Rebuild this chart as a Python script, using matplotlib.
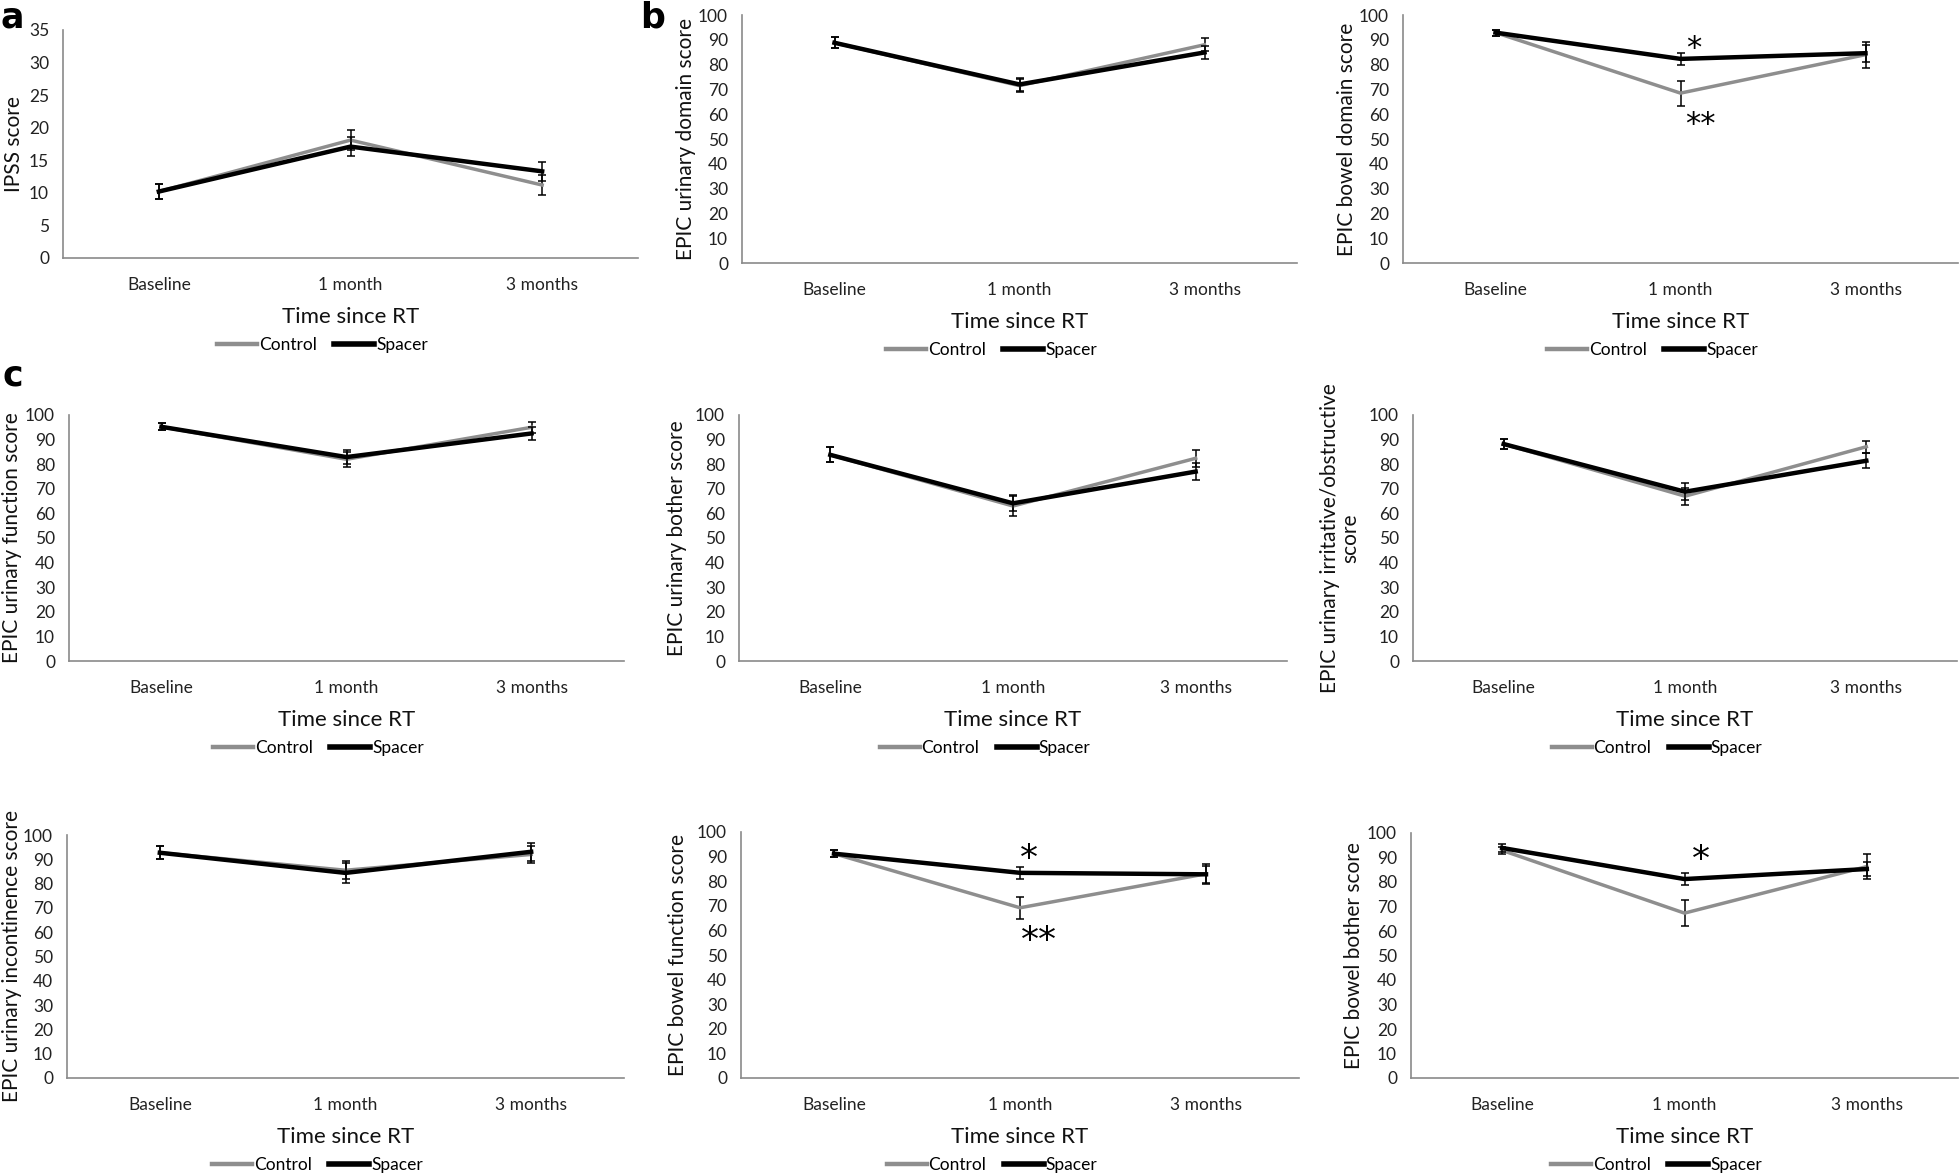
import matplotlib
matplotlib.use("Agg")
import matplotlib.pyplot as plt
from matplotlib.lines import Line2D
import numpy as np

plt.rcParams['font.family'] = ['Lato', 'DejaVu Sans']

W, H = 1960, 1176

categories = ['Baseline', '1 month', '3 months']

# panel a
ipss_control = [10.2, 18.1, 11.2]
ipss_control_err = [1.2, 1.5, 1.5]
ipss_spacer = [10.2, 17.1, 13.3]
ipss_spacer_err = [1.2, 1.4, 1.5]

# panel b
urinary_domain_control = [88.8, 71.5, 88.0]
urinary_domain_control_err = [2.2, 2.5, 2.7]
urinary_domain_spacer = [88.8, 72.0, 84.9]
urinary_domain_spacer_err = [2.2, 2.7, 2.7]

bowel_domain_control = [92.9, 68.5, 84.0]
bowel_domain_control_err = [1.2, 5.0, 5.2]
bowel_domain_spacer = [92.9, 82.3, 84.6]
bowel_domain_spacer_err = [1.2, 2.5, 3.5]

# panel c
urinary_function_control = [95.2, 82.0, 95.0]
urinary_function_control_err = [1.5, 3.0, 2.3]
urinary_function_spacer = [95.2, 82.9, 92.5]
urinary_function_spacer_err = [1.5, 2.8, 2.7]

urinary_bother_control = [83.8, 63.0, 82.4]
urinary_bother_control_err = [3.0, 4.0, 3.5]
urinary_bother_spacer = [83.8, 64.1, 77.0]
urinary_bother_spacer_err = [3.0, 3.2, 3.4]

irritative_control = [88.2, 67.0, 87.1]
irritative_control_err = [2.2, 3.5, 2.4]
irritative_spacer = [88.2, 68.8, 81.4]
irritative_spacer_err = [2.2, 3.4, 3.1]

incontinence_control = [92.7, 85.5, 92.0]
incontinence_control_err = [2.7, 3.6, 3.5]
incontinence_spacer = [92.7, 84.4, 93.1]
incontinence_spacer_err = [2.7, 4.0, 3.8]

bowel_function_control = [91.2, 69.2, 83.0]
bowel_function_control_err = [1.5, 4.5, 4.0]
bowel_function_spacer = [91.2, 83.4, 82.8]
bowel_function_spacer_err = [1.5, 2.5, 3.4]

bowel_bother_control = [92.9, 67.3, 86.3]
bowel_bother_control_err = [1.5, 5.2, 5.0]
bowel_bother_spacer = [93.9, 81.2, 85.3]
bowel_bother_spacer_err = [1.5, 2.6, 3.0]

GRAY = '#8e8e8e'
SPINE = '#8a8a8a'

# (left, right, top, bottom) in pixels, ylabel x pixel, ymax, ystep, ylabel
panels = [
    dict(box=(63, 638, 30, 258), ylx=14, ymax=35, step=5, ylabel='IPSS score',
         data=(ipss_control, ipss_control_err, ipss_spacer, ipss_spacer_err), stars=[]),
    dict(box=(742, 1297, 15, 263), ylx=686, ymax=100, step=10, ylabel='EPIC urinary domain score',
         data=(urinary_domain_control, urinary_domain_control_err,
               urinary_domain_spacer, urinary_domain_spacer_err), stars=[]),
    dict(box=(1403, 1958, 15, 263), ylx=1347, ymax=100, step=10, ylabel='EPIC bowel domain score',
         data=(bowel_domain_control, bowel_domain_control_err,
               bowel_domain_spacer, bowel_domain_spacer_err),
         stars=[('*', 1.07, 86.5, 22), ('**', 1.11, 56, 22)]),
    dict(box=(69, 624, 415, 661), ylx=12, ymax=100, step=10, ylabel='EPIC urinary function score',
         data=(urinary_function_control, urinary_function_control_err,
               urinary_function_spacer, urinary_function_spacer_err), stars=[]),
    dict(box=(739, 1287, 415, 661), ylx=677, ymax=100, step=10, ylabel='EPIC urinary bother score',
         data=(urinary_bother_control, urinary_bother_control_err,
               urinary_bother_spacer, urinary_bother_spacer_err), stars=[]),
    dict(box=(1413, 1957, 415, 661), ylx=1340, ymax=100, step=10,
         ylabel='EPIC urinary irritative/obstructive\nscore',
         data=(irritative_control, irritative_control_err,
               irritative_spacer, irritative_spacer_err), stars=[]),
    dict(box=(67, 624, 835, 1078), ylx=12, ymax=100, step=10, ylabel='EPIC urinary incontinence score',
         data=(incontinence_control, incontinence_control_err,
               incontinence_spacer, incontinence_spacer_err), stars=[]),
    dict(box=(741, 1299, 832, 1078), ylx=678, ymax=100, step=10, ylabel='EPIC bowel function score',
         data=(bowel_function_control, bowel_function_control_err,
               bowel_function_spacer, bowel_function_spacer_err),
         stars=[('*', 1.05, 89, 26), ('**', 1.1, 55.5, 26)]),
    dict(box=(1411, 1958, 833, 1078), ylx=1354, ymax=100, step=10, ylabel='EPIC bowel bother score',
         data=(bowel_bother_control, bowel_bother_control_err,
               bowel_bother_spacer, bowel_bother_spacer_err),
         stars=[('*', 1.09, 89, 26)]),
]

fig = plt.figure(figsize=(W / 100, H / 100), dpi=100)
x = np.arange(len(categories))

for p in panels:
    l, r, t, b = p['box']
    ax = fig.add_axes([l / W, 1 - b / H, (r - l) / W, (b - t) / H])
    h = b - t
    w = r - l
    c, ce, s, se = p['data']
    ax.errorbar(x, c, yerr=ce, color=GRAY, lw=2.5, ecolor='black', elinewidth=1.1,
                capsize=3, capthick=1.1, zorder=2)
    ax.errorbar(x, s, yerr=se, color='black', lw=3.2, ecolor='black', elinewidth=1.1,
                capsize=3, capthick=1.1, zorder=3)
    for txt, sx, sy, fs in p['stars']:
        ax.text(sx, sy, txt, fontsize=fs, ha='center', va='center', family='DejaVu Sans')

    ax.set_xlim(-0.5, 2.5)
    ax.set_ylim(0, p['ymax'])
    ax.set_yticks(np.arange(0, p['ymax'] + 1, p['step']))
    ax.set_xticks(x)
    ax.set_xticklabels(categories)
    ax.tick_params(length=0, labelsize=12.5, colors='#222222')
    ax.tick_params(axis='x', pad=14)
    ax.tick_params(axis='y', pad=10)
    for side in ['top', 'right']:
        ax.spines[side].set_visible(False)
    for side in ['left', 'bottom']:
        ax.spines[side].set_color(SPINE)
        ax.spines[side].set_linewidth(1.2)

    ax.set_xlabel('Time since RT', fontsize=16, color='#111111')
    ax.xaxis.label.set_va('center')
    ax.xaxis.set_label_coords(0.5, -59 / h)

    ax.set_ylabel(p['ylabel'], fontsize=15, color='#111111', linespacing=1.0)
    ax.yaxis.label.set_va('center')
    ax.yaxis.set_label_coords((p['ylx'] - l) / w, 0.5)

    handles = [Line2D([], [], color=GRAY, lw=3.2), Line2D([], [], color='black', lw=4)]
    ax.legend(handles, ['Control', 'Spacer'], loc='center',
              bbox_to_anchor=(0.5 - 28 / w, -87 / h),
              ncol=2, frameon=False, fontsize=12.5, handlelength=2.3, handletextpad=0.1,
              columnspacing=1.0)

fig.text(1 / W, 1 - 1 / H, 'a', fontsize=25, fontweight='bold', family='DejaVu Sans',
         ha='left', va='top')
fig.text(640 / W, 1 - 1 / H, 'b', fontsize=25, fontweight='bold', family='DejaVu Sans',
         ha='left', va='top')
fig.text(3 / W, 1 - 376 / H, 'c', fontsize=25, fontweight='bold', family='DejaVu Sans',
         ha='left', va='center')

fig.savefig('out.png', dpi=100)
